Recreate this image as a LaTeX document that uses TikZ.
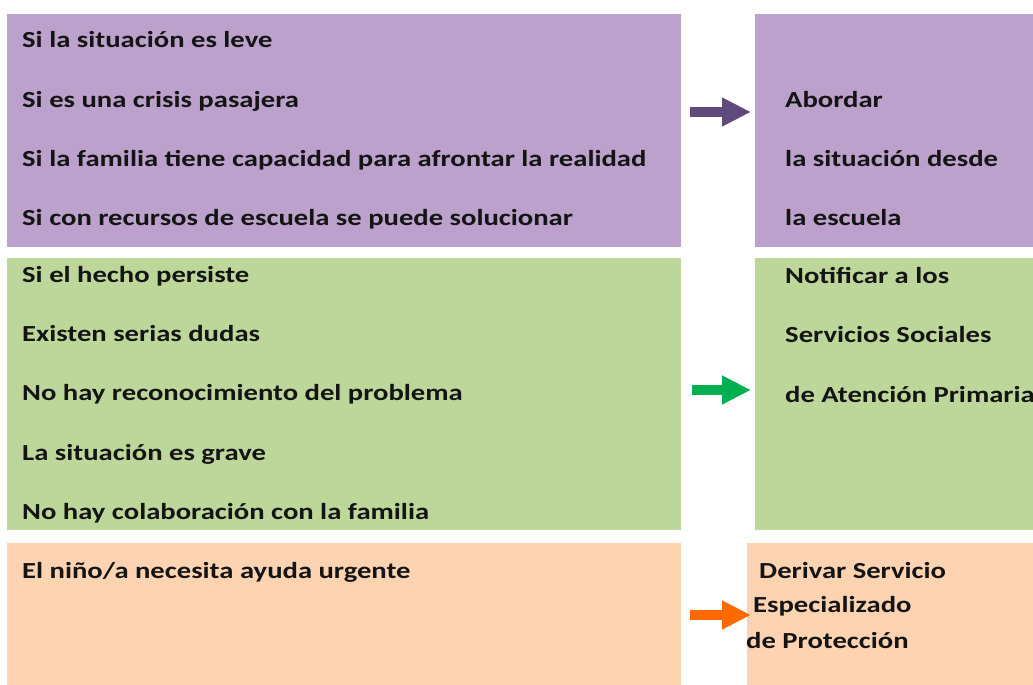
\documentclass[tikz,border=0pt]{standalone}
\usepackage{fontspec}
\setmainfont{Carlito}[FakeStretch=1.245]
\usetikzlibrary{arrows.meta}
\definecolor{purp}{HTML}{BBA1CB}
\definecolor{grn}{HTML}{BDD79B}
\definecolor{orng}{HTML}{FDD3B2}
\definecolor{purpA}{HTML}{604A7B}
\definecolor{grnA}{HTML}{00B050}
\definecolor{orngA}{HTML}{FF6A00}
\begin{document}
\begin{tikzpicture}[x=1pt,y=-1pt,
  box/.style={inner sep=0pt, anchor=north west, draw=none},
  txt/.style={anchor=base west, inner sep=0pt, font=\fontsize{23}{23}\selectfont\bfseries, text=black!92},
  arr/.style={line width=10.5pt, -{Triangle[length=29pt,width=27pt]}}]
\useasboundingbox (0,0) rectangle (1033,685);
\clip (0,0) rectangle (1033,685);
% boxes
\node[box, fill=purp, minimum width=674pt, minimum height=233pt] (pl) at (7,14) {};
\node[box, fill=purp, minimum width=300pt, minimum height=233pt] (pr) at (755,14) {};
\node[box, fill=grn, minimum width=674pt, minimum height=272pt] (gl) at (7,258) {};
\node[box, fill=grn, minimum width=300pt, minimum height=272pt] (gr) at (755,258) {};
\node[box, fill=orng, minimum width=674pt, minimum height=160pt] (ol) at (7,543) {};
\node[box, fill=orng, minimum width=300pt, minimum height=160pt] (or) at (747,543) {};
% left texts
\node[txt] (p1) at (22,48) {Si la situación es leve};
\node[txt] (p2) at (22,107) {Si es una crisis pasajera};
\node[txt] (p3) at (22,166) {Si la familia tiene capacidad para afrontar la realidad};
\node[txt] (p4) at (22,225) {Si con recursos de escuela se puede solucionar};
\node[txt] (g1) at (22,282) {Si el hecho persiste};
\node[txt] (g2) at (22,341) {Existen serias dudas};
\node[txt] (g3) at (22,400) {No hay reconocimiento del problema};
\node[txt] (g4) at (22,460) {La situación es grave};
\node[txt] (g5) at (22,519) {No hay colaboración con la familia};
\node[txt] (o1) at (22,578) {El niño/a necesita ayuda urgente};
% right texts
\node[txt] (pr1) at (785,107) {Abordar};
\node[txt] (pr2) at (785,166) {la situación desde};
\node[txt] (pr3) at (785,225) {la escuela};
\node[txt] (gr1) at (785,283) {Notificar a los};
\node[txt] (gr2) at (785,342) {Servicios Sociales};
\node[txt] (gr3) at (785,402) {de Atención Primaria};
\node[txt] (or1) at (759,578) {Derivar Servicio};
\node[txt] (or2) at (753,612) {Especializado};
\node[txt] (or3) at (746,648) {de Protección};
% arrows
\coordinate (pa0) at (690,112); \coordinate (pa1) at (751,112);
\coordinate (ga0) at (692,390); \coordinate (ga1) at (751,390);
\coordinate (oa0) at (690,615); \coordinate (oa1) at (751,615);
\draw[arr, draw=purpA, fill=purpA] (pa0) -- (pa1);
\draw[arr, draw=grnA, fill=grnA] (ga0) -- (ga1);
\draw[arr, draw=orngA, fill=orngA] (oa0) -- (oa1);
\end{tikzpicture}
\end{document}
